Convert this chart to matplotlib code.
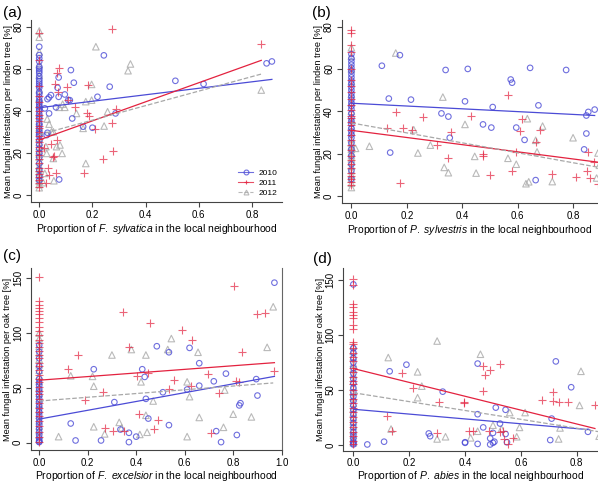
import numpy as np
import matplotlib
matplotlib.use("Agg")
import matplotlib.pyplot as plt
from matplotlib.lines import Line2D

plt.rcParams['font.family'] = ['Liberation Sans', 'DejaVu Sans']
plt.rcParams['mathtext.fontset'] = 'custom'
plt.rcParams['mathtext.it'] = 'Liberation Sans:italic'
plt.rcParams['mathtext.rm'] = 'Liberation Sans'

years = ["2010", "2011", "2012"]
colors = ["#4b4bd6", "#e3223f", "#a8a8a8"]
markers = ["o", "+", "^"]

# ---- panel (a): F. sylvatica, linden ----
a_2010_y0 = [70.5, 66.5, 65, 63.5, 61, 60, 59, 58, 56.5, 55, 54, 53, 52, 51, 49, 48, 46.5, 45, 44, 43,
             42, 41, 40, 38.5, 37, 36, 34, 33, 31.5, 30, 29, 28, 26, 24, 22, 20, 18, 15, 12, 9, 7]
a_2011_y0 = [77, 64, 52, 47, 44, 42, 40, 38, 36.5, 35, 33, 32, 30, 28, 26.5, 25, 23, 21, 19, 17, 15,
             13, 11.5, 10, 8.5, 7, 5.5, 4]
a_2012_y0 = [78, 75, 68, 62, 57, 50, 46, 43, 39, 35, 32, 30, 27, 25, 23, 21, 19.5, 18, 16, 14, 12.5,
             11, 9.5, 8, 6.5, 5, 3.5]
a_2010_x = [0.021, 0.031, 0.037, 0.044, 0.037, 0.028, 0.031, 0.063, 0.069, 0.073, 0.073, 0.096, 0.109,
            0.115, 0.119, 0.130, 0.124, 0.075, 0.165, 0.2, 0.219, 0.243, 0.265, 0.287, 0.512, 0.618,
            0.855, 0.875]
a_2010_y = [41.2, 45.6, 46.4, 47.5, 38.8, 28.5, 29.6, 41.7, 51.0, 46.7, 55.9, 47.8, 45.1, 45.1, 59.4,
            53.4, 36.4, 7.4, 32.5, 32.0, 46.7, 66.4, 51.5, 38.8, 54.3, 52.8, 62.6, 63.5]
a_2011_x = [0.019, 0.024, 0.034, 0.037, 0.046, 0.050, 0.056, 0.058, 0.063, 0.065, 0.065, 0.074, 0.069,
            0.103, 0.109, 0.134, 0.169, 0.180, 0.185, 0.188, 0.208, 0.240, 0.275, 0.273, 0.278, 0.290,
            0.835]
a_2011_y = [22.2, 5.9, 12.7, 9.5, 24.2, 18.2, 18.5, 52.6, 10.3, 26.1, 58.1, 60.5, 49.1, 51.2, 45.1,
            42.0, 10.3, 38.8, 52.3, 37.5, 31.2, 17.1, 78.7, 34.4, 21.1, 41.0, 71.8]
a_2012_x = [0.015, 0.021, 0.025, 0.030, 0.037, 0.028, 0.046, 0.053, 0.053, 0.055, 0.065, 0.075, 0.078,
            0.086, 0.096, 0.088, 0.140, 0.165, 0.175, 0.175, 0.197, 0.197, 0.213, 0.244, 0.257, 0.334,
            0.343, 0.835]
a_2012_y = [5.9, 10.3, 23.0, 36.1, 33.7, 19.8, 30.1, 30.1, 17.4, 6.8, 23.0, 41.7, 23.8, 19.8, 41.7,
            43.2, 38.8, 31.7, 15.0, 44.4, 45.1, 52.6, 70.5, 32.8, 39.6, 59.1, 62.3, 49.9]
a_fit_int = [41.5, 26.2, 28.7]
a_fit_slope = [15.4, 45.3, 34.5]

# ---- panel (b): P. sylvestris, linden ----
b_2010_y0 = [67, 65, 63.5, 62, 60.5, 59, 57.5, 56, 54.5, 53, 51.5, 50, 48.5, 47, 45.5, 44, 42.5, 41,
             39, 37, 35.5, 34, 32, 30.5, 29, 27.5, 25, 22, 19, 15, 12, 8]
b_2011_y0 = [78.5, 77, 71.5, 68, 60, 55, 52, 49, 46, 43, 40.5, 38, 37, 35, 33.5, 31, 29, 26.5, 24,
             21.5, 19, 17, 15, 13, 11, 9.5, 8, 6.5, 5]
b_2012_y0 = [70, 66, 60, 54, 48, 44, 40, 36, 33, 30, 27, 25, 23.5, 22, 20.5, 19, 17.5, 16, 14, 12, 10,
             8, 6, 4]
b_2010_x = [0.11, 0.135, 0.14, 0.175, 0.215, 0.325, 0.34, 0.35, 0.355, 0.41, 0.42, 0.475, 0.505, 0.51,
            0.575, 0.58, 0.595, 0.625, 0.645, 0.665, 0.675, 0.775, 0.84, 0.848, 0.848, 0.855, 0.878]
b_2010_y = [61.5, 46, 20.5, 66.5, 45.5, 39, 59.5, 37.5, 27.5, 44.7, 60, 33.8, 32.3, 42, 55, 53.5,
            32.3, 26.5, 60.5, 7.5, 42.8, 59.5, 22, 29.5, 38, 39.7, 40.8]
b_2011_x = [0.13, 0.16, 0.175, 0.185, 0.22, 0.26, 0.31, 0.35, 0.36, 0.43, 0.475, 0.475, 0.5, 0.565,
            0.58, 0.595, 0.61, 0.615, 0.665, 0.68, 0.725, 0.81, 0.85, 0.855, 0.86, 0.875, 0.89]
b_2011_y = [32.2, 39.7, 6.3, 32, 31.3, 37.5, 24.3, 17.8, 30.3, 37.8, 19, 20, 10, 47.5, 12, 21, 30.5,
            36.5, 25.5, 31, 10.5, 9, 12, 21, 8.5, 16, 5.5]
b_2012_x = [0.015, 0.065, 0.16, 0.225, 0.24, 0.285, 0.33, 0.335, 0.35, 0.41, 0.445, 0.45, 0.565, 0.595,
            0.63, 0.64, 0.635, 0.665, 0.67, 0.69, 0.725, 0.8, 0.885, 0.89, 0.895]
b_2012_y = [22.5, 23.5, 67.5, 31.3, 20.3, 24, 46.7, 13.5, 11, 33.8, 18.7, 10.8, 17.8, 15, 5.8, 6.7,
            36.5, 26.3, 20.8, 33, 6.8, 27.5, 8.5, 20.3, 14.5]
b_fit_int = [43.8, 31.0, 34.5]
b_fit_slope = [-6.6, -16.9, -23.5]

# ---- panel (c): F. excelsior, oak ----
c_2010_y0 = [89, 83, 77, 70, 65, 58, 55, 52, 49, 46, 43, 40, 37, 34, 31, 28, 25, 22, 19, 16, 13, 10,
             7, 4, 2, 1, 0.5]
c_2011_y0 = [151, 129, 126, 123, 120, 117, 114, 110, 106, 102, 98, 94, 91, 87, 84, 80, 77, 73, 70, 66,
             62, 58, 55, 51, 47, 44, 40, 36, 32, 28, 24, 20, 15, 10, 5, 1]
c_2012_y0 = [100, 95, 88, 82, 76, 71, 66, 61, 56, 50, 45, 40, 35, 30, 25, 20, 15, 11, 7, 3]
c_2010_x = [0.13, 0.15, 0.225, 0.255, 0.31, 0.335, 0.37, 0.37, 0.4, 0.425, 0.435, 0.44, 0.45, 0.485,
            0.51, 0.535, 0.535, 0.61, 0.62, 0.66, 0.66, 0.72, 0.73, 0.75, 0.77, 0.815, 0.825, 0.83,
            0.895, 0.9, 0.97]
c_2010_y = [17.5, 2, 67, 2, 37, 12, 9, 0.5, 5.5, 67, 60, 40, 22, 88, 46, 82.5, 16, 48.5, 86.5, 72.5,
            52, 56, 10.5, 0.5, 63, 7, 34, 36, 58, 43, 146]
c_2011_x = [0.12, 0.16, 0.19, 0.265, 0.27, 0.305, 0.345, 0.35, 0.37, 0.405, 0.41, 0.45, 0.455, 0.475,
            0.49, 0.535, 0.555, 0.59, 0.625, 0.63, 0.695, 0.71, 0.74, 0.805, 0.81, 0.825, 0.835, 0.9,
            0.93, 0.97]
c_2011_y = [67, 80, 39, 46, 13, 10.5, 119, 10.5, 87, 61, 26, 64, 109, 12.5, 21, 49, 57, 103, 52, 93.5,
            62.5, 8.5, 45, 143, 56, 55, 83, 117, 118, 65.5]
c_2012_x = [0.08, 0.13, 0.22, 0.225, 0.225, 0.27, 0.3, 0.33, 0.34, 0.38, 0.415, 0.42, 0.44, 0.44,
            0.445, 0.47, 0.53, 0.545, 0.61, 0.61, 0.62, 0.655, 0.66, 0.76, 0.765, 0.8, 0.875, 0.94,
            0.965]
c_2012_y = [5.5, 61, 60.5, 51.5, 14.5, 8, 80, 18.5, 13.5, 85, 7.5, 55.5, 80, 25, 9.5, 38, 85, 95,
            55.5, 5.5, 42, 82.5, 23, 14, 48, 26, 23.5, 87, 124]
c_fit_int = [21.5, 57.0, 38.0]
c_fit_slope = [40.2, 16.5, 17.1]

# ---- panel (d): P. abies, oak ----
d_2010_y0 = [146, 88, 84, 79, 75, 70, 65, 60, 56, 52, 48, 44, 40, 36, 32, 28, 24, 20, 16, 12, 9, 6,
             3, 1.5, 0.5]
d_2011_y0 = [151, 145, 128, 125, 121, 118, 115, 109, 105, 94, 92, 88, 84, 80, 76, 70, 66, 62, 58, 55,
             50, 46, 42, 38, 34, 30, 25, 21, 16, 12, 8, 4, 1]
d_2012_y0 = [90, 85, 80, 74, 69, 64, 58, 53, 48, 43, 38, 33, 29, 25, 21, 17, 13, 9, 5, 2]
d_2010_x = [0.05, 0.11, 0.13, 0.19, 0.27, 0.275, 0.32, 0.4, 0.4, 0.445, 0.445, 0.445, 0.465, 0.49,
            0.49, 0.5, 0.5, 0.505, 0.51, 0.525, 0.545, 0.545, 0.55, 0.705, 0.71, 0.725, 0.78, 0.84]
d_2010_y = [0.5, 3, 67, 73, 10.5, 8, 48.5, 2, 2.5, 74, 28, 1, 16, 6, 0.5, 11, 2, 3, 34, 19.5, 32, 10,
            2.5, 4.5, 24, 76, 52.5, 12]
d_2011_x = [0.12, 0.14, 0.175, 0.215, 0.3, 0.305, 0.395, 0.395, 0.415, 0.43, 0.465, 0.465, 0.47,
            0.485, 0.49, 0.525, 0.525, 0.535, 0.54, 0.555, 0.57, 0.675, 0.715, 0.715, 0.735, 0.77,
            0.865]
d_2011_y = [26, 12.5, 65.5, 51.5, 10.5, 39, 39.5, 38.5, 13, 13, 72, 49, 63.5, 13, 68, 12, 74, 13, 5.5,
            1, 6, 40.5, 48.5, 40, 39.5, 39.5, 36]
d_2012_x = [0.125, 0.135, 0.23, 0.23, 0.245, 0.3, 0.3, 0.33, 0.42, 0.445, 0.455, 0.5, 0.53, 0.56,
            0.585, 0.595, 0.615, 0.735, 0.74, 0.81, 0.815, 0.88]
d_2012_y = [79.5, 14.5, 66.5, 43, 53.5, 94.5, 5.5, 7.5, 6.5, 12.5, 82.5, 18, 14.5, 29.5, 7.5, 16,
            29.5, 5.5, 15.5, 36, 67, 8]
d_fit_int = [32.5, 69.5, 47.5]
d_fit_slope = [-22.0, -63.0, -40.3]

W, H = 598, 483
fig = plt.figure(figsize=(W / 100, H / 100), dpi=100)


def add_ax(left, right, top, bottom):
    return fig.add_axes([left / W, 1 - bottom / H, (right - left) / W, (bottom - top) / H])


def draw_panel(ax, y0s, xs, ys, ints, slopes, xlim, ylim, xticks, yticks, xlabel, ylabel, xpad=1.5):
    for i in range(3):
        col = colors[i]
        y0 = np.array(y0s[i])
        x = np.concatenate([np.zeros(len(y0)), xs[i]])
        y = np.concatenate([y0, ys[i]])
        if markers[i] == "o":
            ax.scatter(x, y, s=16, facecolors="none", edgecolors=col, linewidths=0.8, alpha=0.8, zorder=3)
        elif markers[i] == "+":
            ax.scatter(x, y, s=30, marker="+", color=col, linewidths=0.8, alpha=0.7, zorder=3)
        else:
            ax.scatter(x, y, s=22, marker="^", facecolors="none", edgecolors=col, linewidths=0.8,
                       alpha=0.8, zorder=2)
    for i in range(3):
        xx = np.array([0, max(xs[i])])
        ls = "--" if i == 2 else "-"
        ax.plot(xx, ints[i] + slopes[i] * xx, color=colors[i], lw=0.9, ls=ls, zorder=4)
    ax.set_xlim(*xlim)
    ax.set_ylim(*ylim)
    ax.set_xticks(xticks)
    ax.set_xticklabels(["%.1f" % t for t in xticks])
    ax.set_yticks(yticks)
    ax.set_yticklabels([str(t) for t in yticks], rotation=90, va="center")
    ax.tick_params(labelsize=7, length=3.5, width=0.8, color="#444444", pad=2)
    for s in ["top", "right"]:
        ax.spines[s].set_visible(False)
    for s in ["left", "bottom"]:
        ax.spines[s].set_color("#444444")
        ax.spines[s].set_linewidth(0.8)
    ax.set_xlabel(xlabel, fontsize=7.5, labelpad=xpad)
    ax.set_ylabel(ylabel, fontsize=6.6, labelpad=0.5)


ax_a = add_ax(31, 282, 20, 202)
draw_panel(ax_a, [a_2010_y0, a_2011_y0, a_2012_y0], [a_2010_x, a_2011_x, a_2012_x],
           [a_2010_y, a_2011_y, a_2012_y], a_fit_int, a_fit_slope,
           (-0.031, 0.913), (-3.3, 83.2), [0.0, 0.2, 0.4, 0.6, 0.8], [0, 20, 40, 60, 80],
           r"Proportion of $\it{F.\ sylvatica}$ in the local neighbourhood",
           "Mean fungal infestation per linden tree [%]")

ax_b = add_ax(341.7, 598, 20, 203.3)
draw_panel(ax_b, [b_2010_y0, b_2011_y0, b_2012_y0], [b_2010_x, b_2011_x, b_2012_x],
           [b_2010_y, b_2011_y, b_2012_y], b_fit_int, b_fit_slope,
           (-0.035, 0.89), (-3.45, 83.1), [0.0, 0.2, 0.4, 0.6, 0.8], [0, 20, 40, 60, 80],
           r"Proportion of $\it{P.\ sylvestris}$ in the local neighbourhood",
           "Mean fungal infestation per linden tree [%]")

ax_c = add_ax(30.7, 281.7, 268, 450)
draw_panel(ax_c, [c_2010_y0, c_2011_y0, c_2012_y0], [c_2010_x, c_2011_x, c_2012_x],
           [c_2010_y, c_2011_y, c_2012_y], c_fit_int, c_fit_slope,
           (-0.035, 1.0), (-6.7, 159.4), [0.0, 0.2, 0.4, 0.6, 0.8, 1.0], [0, 50, 100, 150],
           r"Proportion of $\it{F.\ excelsior}$ in the local neighbourhood",
           "Mean fungal infestation per oak tree [%]", xpad=0.8)
ax_c.spines["right"].set_visible(True)
ax_c.spines["right"].set_color("#666666")

ax_d = add_ax(343.3, 598, 268, 450.5)
draw_panel(ax_d, [d_2010_y0, d_2011_y0, d_2012_y0], [d_2010_x, d_2011_x, d_2012_x],
           [d_2010_y, d_2011_y, d_2012_y], d_fit_int, d_fit_slope,
           (-0.036, 0.876), (-5.0, 160.9), [0.0, 0.2, 0.4, 0.6, 0.8], [0, 50, 100, 150],
           r"Proportion of $\it{P.\ abies}$ in the local neighbourhood",
           "Mean fungal infestation per oak tree [%]", xpad=0.3)

# panel letters
for lab, px, py in [("(a)", 3, 13), ("(b)", 312, 13), ("(c)", 3, 256), ("(d)", 313, 259)]:
    fig.text(px / W, 1 - py / H, lab, fontsize=11, va="center", ha="left")

handles = []
for i in range(3):
    handles.append(Line2D([0], [0], color=colors[i], marker=markers[i], lw=0.8,
                          ls="--" if i == 2 else "-", markersize=3.5, markerfacecolor="none",
                          markeredgewidth=0.8, alpha=0.8))
ax_a.legend(handles, years, loc="lower right", frameon=False, fontsize=6,
            handlelength=1.8, handletextpad=0.6, labelspacing=0.3, bbox_to_anchor=(1.01, -0.015))

fig.savefig("out.png", dpi=100)
